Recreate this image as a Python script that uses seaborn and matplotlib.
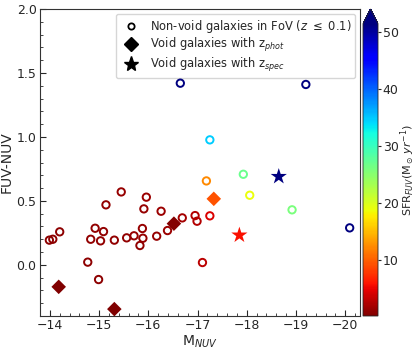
import numpy as np
import pandas as pd
import matplotlib
matplotlib.use("Agg")
import matplotlib.pyplot as plt
from matplotlib.colors import Normalize
from matplotlib.ticker import AutoMinorLocator, MultipleLocator
from matplotlib.lines import Line2D
import seaborn as sns

# Non-void galaxies (open circles)
nv_mnuv = [-16.65, -19.20, -17.25, -17.93, -17.18, -18.06, -18.92, -20.09,
           -15.45, -15.96, -15.14, -15.91, -16.26, -16.95, -16.99, -16.69,
           -17.25, -16.39, -16.17, -15.88, -15.89, -15.83, -15.71, -15.56,
           -15.31, -15.03, -14.83, -14.92, -15.09, -14.20, -13.99, -14.06,
           -14.77, -14.99, -17.10]
nv_color = [1.42, 1.41, 0.977, 0.708, 0.656, 0.544, 0.43, 0.289,
            0.570, 0.529, 0.469, 0.4375, 0.419, 0.385, 0.341, 0.367,
            0.383, 0.268, 0.224, 0.284, 0.208, 0.151, 0.227, 0.211,
            0.193, 0.1875, 0.200, 0.286, 0.260, 0.258, 0.193, 0.200,
            0.021, -0.115, 0.018]
nv_sfr = [53, 53, 34.8, 27, 12.4, 19, 26, 53,
          1.3, 1.5, 1.2, 1.4, 1.5, 2.6, 2.6, 2.0,
          4.3, 1.6, 1.4, 1.3, 1.3, 1.2, 1.3, 1.2,
          1.1, 1.1, 1.1, 1.1, 1.1, 1.0, 1.0, 1.0,
          1.0, 1.0, 3.0]

# Void galaxies with photometric redshift (diamonds)
ph_mnuv = [-17.33, -16.52, -14.18, -15.31]
ph_color = [0.516, 0.322, -0.172, -0.346]
ph_sfr = [9.3, 0.5, 0.3, 0.3]

# Void galaxies with spectroscopic redshift (stars)
sp_mnuv = [-18.65, -17.85]
sp_color = [0.69, 0.232]
sp_sfr = [55, 5.8]

vmin, vmax = 0.2, 51.5
norm = Normalize(vmin=vmin, vmax=vmax)
cmap = plt.get_cmap("jet_r")

sns.set_style("ticks")
plt.rcParams["font.family"] = ["DejaVu Sans"]

fig = plt.figure(figsize=(4.16, 3.5), dpi=100)
ax = fig.add_axes([40/416, 34/350, 320/416, 307/350])
cax = fig.add_axes([363/416, 34/350, 15/416, 307/350])

nv = pd.DataFrame({"M": nv_mnuv, "C": nv_color, "S": np.clip(nv_sfr, vmin, vmax)})
ph = pd.DataFrame({"M": ph_mnuv, "C": ph_color, "S": np.clip(ph_sfr, vmin, vmax)})
sp = pd.DataFrame({"M": sp_mnuv, "C": sp_color, "S": np.clip(sp_sfr, vmin, vmax)})

sns.scatterplot(data=nv, x="M", y="C", hue="S", palette="jet_r", hue_norm=norm,
                marker="o", s=28, linewidth=1.4, legend=False, ax=ax, zorder=3)
coll = ax.collections[-1]
fc = coll.get_facecolors()
coll.set_edgecolors(fc)
coll.set_facecolors("none")

sns.scatterplot(data=ph, x="M", y="C", hue="S", palette="jet_r", hue_norm=norm,
                marker="D", s=55, edgecolor="none", legend=False, ax=ax, zorder=4)
sns.scatterplot(data=sp, x="M", y="C", hue="S", palette="jet_r", hue_norm=norm,
                marker="*", s=150, edgecolor="none", legend=False, ax=ax, zorder=4)

ax.set_xlim(-13.8, -20.3)
ax.set_ylim(-0.4, 2.0)
ax.xaxis.set_major_locator(MultipleLocator(1))
ax.yaxis.set_major_locator(MultipleLocator(0.5))
ax.xaxis.set_minor_locator(AutoMinorLocator(5))
ax.yaxis.set_minor_locator(AutoMinorLocator(5))
ax.tick_params(which="major", direction="in", length=4.5, width=0.8, labelsize=9,
               pad=2.5, top=False, right=False)
ax.tick_params(which="minor", direction="in", length=2, width=0.6,
               top=False, right=False)
for sp_ in ax.spines.values():
    sp_.set_visible(True)
    sp_.set_linewidth(0.8)
    sp_.set_color("#333333")
ax.set_xlabel(r"M$_{NUV}$", fontsize=10, labelpad=1)
ax.set_ylabel("FUV-NUV", fontsize=10, labelpad=2)

handles = [
    Line2D([], [], marker="o", ls="none", mfc="none", mec="black", mew=1.3, ms=4.5),
    Line2D([], [], marker="D", ls="none", mfc="black", mec="black", ms=7),
    Line2D([], [], marker="*", ls="none", mfc="black", mec="black", ms=11),
]
labels = [r"Non-void galaxies in FoV ($z\ \leq\ 0.1$)",
          r"Void galaxies with z$_{phot}$",
          r"Void galaxies with z$_{spec}$"]
leg = ax.legend(handles, labels, loc="upper right", fontsize=8.3, frameon=True,
                borderaxespad=0.4, borderpad=0.35, handletextpad=0.6,
                labelspacing=0.15)
leg.set_zorder(2)

sm = plt.cm.ScalarMappable(norm=norm, cmap=cmap)
cb = fig.colorbar(sm, cax=cax, extend="max")
cb.set_ticks([10, 20, 30, 40, 50])
cb.ax.tick_params(labelsize=9, length=2, pad=1.5, direction="out")
cb.set_label(r"SFR$_{FUV}$(M$_\odot\, yr^{-1}$)", fontsize=8, labelpad=0)
cb.outline.set_linewidth(0.6)

fig.savefig("out.png", dpi=100)
